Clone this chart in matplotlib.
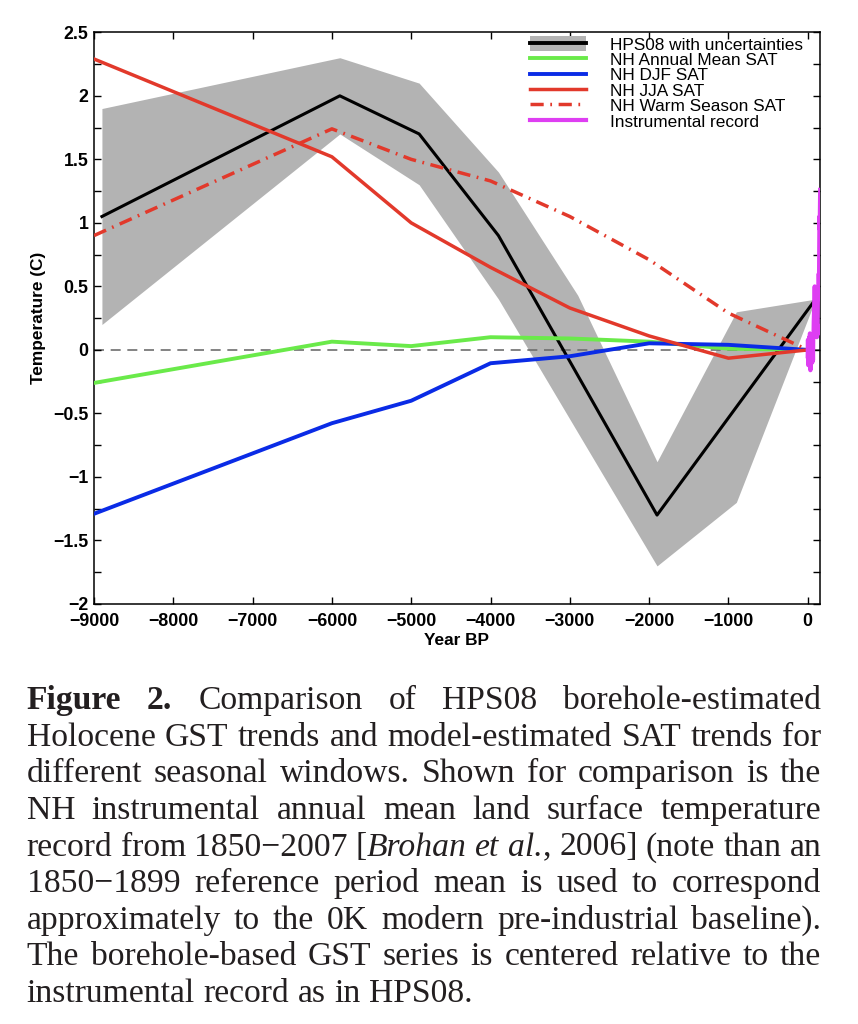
import re
import matplotlib
matplotlib.use("Agg")
import matplotlib.pyplot as plt
from matplotlib.patches import Patch
from matplotlib.lines import Line2D
from matplotlib.ticker import MultipleLocator, FuncFormatter

# ---------------- data ----------------
hps_years = [-8900, -5900, -4900, -3900, -2900, -1900, -900, 100]
hps_mean = [1.05, 2.0, 1.7, 0.9, -0.2, -1.3, -0.45, 0.4]
hps_upper = [1.9, 2.3, 2.1, 1.4, 0.43, -0.88, 0.3, 0.4]
hps_lower = [0.2, 1.7, 1.3, 0.4, -0.65, -1.7, -1.2, 0.4]

model_years = [-9000, -6000, -5000, -4000, -3000, -2000, -1000, 0]
nh_annual = [-0.26, 0.065, 0.03, 0.10, 0.09, 0.065, 0.01, 0.0]
nh_djf = [-1.29, -0.577, -0.40, -0.105, -0.05, 0.052, 0.04, 0.0]
nh_jja = [2.29, 1.52, 1.0, 0.65, 0.33, 0.11, -0.065, 0.0]
nh_warm = [0.9, 1.74, 1.5, 1.33, 1.05, 0.71, 0.29, 0.0]

instr_years = [1850, 1853, 1857, 1861, 1865, 1868, 1872, 1875, 1878, 1881,
               1884, 1888, 1891, 1894, 1897, 1900, 1904, 1907, 1910, 1913,
               1917, 1920, 1923, 1926, 1930, 1934, 1938, 1941, 1944, 1947,
               1950, 1953, 1956, 1959, 1962, 1965, 1968, 1971, 1974, 1977,
               1980, 1983, 1986, 1989, 1992, 1995, 1998, 2001, 2004, 2007]
instr_anom = [-0.05, 0.08, -0.12, -0.02, 0.05, 0.10, -0.02, -0.10, 0.13, 0.0,
              -0.16, -0.08, -0.05, -0.02, 0.05, 0.12, -0.05, -0.10, 0.0, 0.05,
              -0.08, 0.12, 0.10, 0.22, 0.30, 0.28, 0.50, 0.30, 0.45, 0.32,
              0.15, 0.38, 0.15, 0.30, 0.28, 0.10, 0.18, 0.20, 0.12, 0.35,
              0.45, 0.50, 0.40, 0.60, 0.50, 0.78, 1.05, 0.95, 1.10, 1.26]
instr_ref_year = 1850

legend_labels = ["HPS08 with uncertainties", "NH Annual Mean SAT", "NH DJF SAT",
                 "NH JJA SAT", "NH Warm Season SAT", "Instrumental record"]

x_ticks = [-9000, -8000, -7000, -6000, -5000, -4000, -3000, -2000, -1000, 0]
y_ticks = [-2, -1.5, -1, -0.5, 0, 0.5, 1, 1.5, 2, 2.5]

caption_lines = [
    "**Figure** **2.** Comparison of HPS08 borehole-estimated",
    "Holocene GST trends and model-estimated SAT trends for",
    "different seasonal windows. Shown for comparison is the",
    "NH instrumental annual mean land surface temperature",
    "record from 1850\u22122007 [_Brohan_ _et_ _al._, 2006] (note than an",
    "1850\u22121899 reference period mean is used to correspond",
    "approximately to the 0K modern pre-industrial baseline).",
    "The borehole-based GST series is centered relative to the",
    "instrumental record as in HPS08.",
]

# ---------------- style ----------------
W, H = 858, 1024
plt.rcParams["font.family"] = ["Liberation Sans", "DejaVu Sans"]
GRAY = "#b3b3b3"
RED = "#e2392b"
GREEN = "#6aea4a"
BLUE = "#0a2be6"
MAGENTA = "#de3ef2"

fig = plt.figure(figsize=(W / 100, H / 100), dpi=100)
ax = fig.add_axes([94 / W, 1 - 604 / H, 726 / W, 571.7 / H])

ax.fill_between(hps_years, hps_lower, hps_upper, color=GRAY, lw=0, zorder=1)
ax.axhline(0, color="#6e6e6e", lw=1.2, dashes=(6, 4), zorder=1.5)
l_hps, = ax.plot(hps_years, hps_mean, color="black", lw=2.2, zorder=2)
l_ann, = ax.plot(model_years, nh_annual, color=GREEN, lw=2.8, zorder=3)
l_djf, = ax.plot(model_years, nh_djf, color=BLUE, lw=2.8, zorder=3.1)
l_jja, = ax.plot(model_years, nh_jja, color=RED, lw=2.5, zorder=3.2)
l_warm, = ax.plot(model_years, nh_warm, color=RED, lw=2.5, zorder=3.3,
                  dashes=(3.8, 1.9, 0.5, 1.9))
instr_x = [y - instr_ref_year for y in instr_years]
l_ins, = ax.plot(instr_x, instr_anom, color=MAGENTA, lw=3.0, zorder=4)

ax.set_xlim(-9000, 155)
ax.set_ylim(-2, 2.5)
ax.set_xticks(x_ticks)
ax.set_yticks(y_ticks)
ax.yaxis.set_minor_locator(MultipleLocator(0.25))
fmt = FuncFormatter(lambda v, p: ("%g" % v).replace("-", "\u2212"))
ax.xaxis.set_major_formatter(fmt)
ax.yaxis.set_major_formatter(fmt)
ax.tick_params(which="both", direction="in", top=True, right=True,
               length=5.2, width=1.0, labelsize=12.8)
ax.tick_params(axis="x", pad=6.5)
ax.tick_params(axis="y", pad=4)
for lab in ax.get_xticklabels() + ax.get_yticklabels():
    lab.set_fontweight("bold")
for s in ax.spines.values():
    s.set_linewidth(1.1)

ax.set_xlabel("Year BP", fontsize=12.4, fontweight="bold")
ax.set_ylabel("Temperature (C)", fontsize=12.4, fontweight="bold")
ax.xaxis.set_label_coords(0.5, -0.05)
ax.yaxis.set_label_coords(-0.066, 0.5)

hps_handle = (Patch(facecolor=GRAY, edgecolor="none"),
              Line2D([], [], color="black", lw=2.8))
leg_handles = [hps_handle, l_ann, l_djf, l_jja, l_warm, l_ins]
ax.legend(leg_handles, legend_labels, loc="upper left",
          bbox_to_anchor=(530 / W, 1 - 36 / H), bbox_transform=fig.transFigure,
          frameon=False, fontsize=12.4, borderpad=0, borderaxespad=0,
          handlelength=3.24, handleheight=1.0, handletextpad=1.41,
          labelspacing=-0.07)

# ---------------- caption (justified) ----------------
renderer = fig.canvas.get_renderer()
CAP_FONT = ["Liberation Serif", "DejaVu Serif"]
CAP_SIZE = 24.2
x_left, x_right = 26.7, 821.3
base0, pitch = 709.3, 36.55


def parse_word(w):
    segs = []
    for tok in re.split(r"(\*\*.+?\*\*|_.+?_)", w):
        if not tok:
            continue
        if tok.startswith("**"):
            segs.append((tok[2:-2], "bold", "normal"))
        elif tok.startswith("_"):
            segs.append((tok[1:-1], "normal", "italic"))
        else:
            segs.append((tok, "normal", "normal"))
    return segs


for i, line in enumerate(caption_lines):
    ybase = 1 - (base0 + i * pitch) / H
    words = []
    for w in line.split(" "):
        arts = []
        wid = 0.0
        for txt, wt, st in parse_word(w):
            t = fig.text(0, ybase, txt, family=CAP_FONT, fontsize=CAP_SIZE,
                         fontweight=wt, fontstyle=st, va="baseline", ha="left",
                         color="#231f20")
            ext = t.get_window_extent(renderer=renderer)
            arts.append((t, ext.width))
            wid += ext.width
        words.append((arts, wid))
    total = sum(w for _, w in words)
    if i < len(caption_lines) - 1 and len(words) > 1:
        gap = (x_right - x_left - total) / (len(words) - 1)
    else:
        gap = 0.25 * CAP_SIZE * 100 / 72
    x = x_left
    for arts, wid in words:
        for t, sw in arts:
            t.set_x(x / W)
            x += sw
        x += gap

fig.savefig("out.png", dpi=100)
